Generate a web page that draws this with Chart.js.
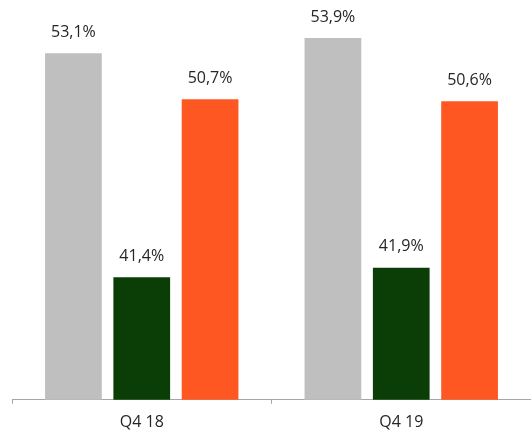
<!DOCTYPE html>
<html>
<head>
<meta charset="utf-8">
<script src="https://cdn.jsdelivr.net/npm/chart.js@4/dist/chart.umd.min.js"></script>
<style>
  html, body { margin: 0; padding: 0; background: #fff; }
  #wrap { width: 531px; height: 433px; }
</style>
</head>
<body>
<div id="wrap"><canvas id="chart"></canvas></div>
<script>
// Data
const categories = ['Q4 18', 'Q4 19'];
const greySeries = [53.1, 53.9];
const greenSeries = [41.4, 41.9];
const orangeSeries = [50.7, 50.6];

const FONT = '"Segoe UI", "Open Sans", sans-serif';

// Value labels above bars, comma decimal
const valueLabels = {
    id: 'valueLabels',
    afterDatasetsDraw(chart) {
        const ctx = chart.ctx;
        ctx.save();
        ctx.font = '16px ' + FONT;
        ctx.fillStyle = '#262626';
        ctx.textAlign = 'center';
        ctx.textBaseline = 'middle';
        chart.data.datasets.forEach((ds, i) => {
            chart.getDatasetMeta(i).data.forEach((bar, j) => {
                const txt = ds.data[j].toFixed(1).replace('.', ',') + '%';
                ctx.fillText(txt, bar.x, bar.y - 21);
            });
        });
        ctx.restore();
    }
};

new Chart(document.getElementById('chart'), {
    type: 'bar',
    data: {
        labels: categories,
        datasets: [
            { data: greySeries, backgroundColor: '#bfbfbf' },
            { data: greenSeries, backgroundColor: '#0b3d06' },
            { data: orangeSeries, backgroundColor: '#fe5722' }
        ]
    },
    options: {
        responsive: true,
        maintainAspectRatio: false,
        animation: false,
        categoryPercentage: 0.79,
        barPercentage: 0.83,
        layout: { padding: { left: 12, right: -4, top: 17, bottom: -8 } },
        plugins: {
            legend: { display: false },
            tooltip: { enabled: false }
        },
        scales: {
            x: {
                border: { color: '#a6a6a6', width: 1 },
                grid: {
                    offset: true,
                    drawOnChartArea: false,
                    tickLength: 4,
                    color: '#a6a6a6'
                },
                ticks: {
                    padding: 9,
                    color: '#262626',
                    font: { family: FONT, size: 16 }
                }
            },
            y: {
                display: false,
                min: 35,
                max: 55
            }
        }
    },
    plugins: [valueLabels]
});
</script>
</body>
</html>
